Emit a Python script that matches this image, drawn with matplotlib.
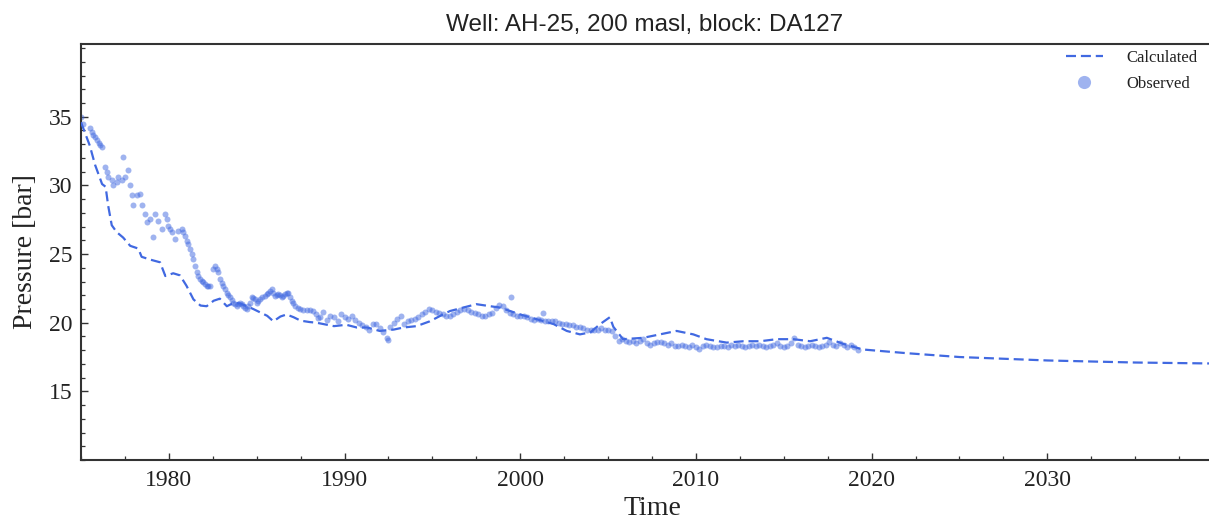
import matplotlib
matplotlib.use("Agg")
import matplotlib.pyplot as plt
from matplotlib.ticker import MultipleLocator

# ---------------- data ----------------
title = "Well: AH-25, 200 masl, block: DA127"

calc_years = [1975.0, 1975.5, 1975.8, 1976.2, 1976.4, 1976.55, 1976.75, 1977.03, 1977.4, 1977.8,
              1978.26, 1978.45, 1978.93, 1979.5, 1979.8, 1980.25, 1980.63, 1981.0, 1981.4, 1981.8,
              1982.15, 1982.55, 1982.9, 1983.3, 1983.7, 1984.05, 1984.45, 1984.8, 1985.2, 1985.6,
              1985.95, 1986.35, 1986.7, 1987.1, 1987.5, 1988.0, 1988.4, 1988.8, 1989.4, 1990.1,
              1990.7, 1991.3, 1992.0, 1992.8, 1993.35, 1994.1, 1994.85, 1995.45, 1996.0, 1996.75,
              1997.5, 1998.3, 1998.85, 2000.0, 2000.95, 2001.9, 2002.65, 2003.4, 2004.0, 2004.55,
              2005.1, 2005.3, 2005.85, 2007.0, 2007.95, 2008.9, 2009.85, 2010.6, 2011.75, 2012.7,
              2013.65, 2014.6, 2015.55, 2016.5, 2017.45, 2018.4, 2019.5, 2020.7, 2022.0, 2025.0,
              2030.0, 2035.0, 2040.0]
calc_bar = [34.6, 32.9, 31.5, 30.1, 29.9, 28.5, 27.1, 26.6, 26.2, 25.6,
            25.4, 24.8, 24.6, 24.4, 23.4, 23.6, 23.45, 22.7, 21.7, 21.25,
            21.2, 21.6, 21.75, 21.2, 21.45, 21.4, 21.2, 21.0, 20.75, 20.5,
            20.1, 20.45, 20.6, 20.4, 20.15, 20.05, 20.0, 19.9, 19.75, 19.85,
            19.65, 19.65, 19.4, 19.5, 19.65, 19.75, 20.1, 20.5, 20.85, 21.1,
            21.35, 21.2, 21.1, 20.6, 20.25, 19.9, 19.4, 19.15, 19.3, 19.9,
            20.4, 19.7, 18.8, 18.9, 19.15, 19.4, 19.15, 18.8, 18.55, 18.65,
            18.65, 18.8, 18.8, 18.65, 18.9, 18.45, 18.05, 17.92, 17.78, 17.5,
            17.25, 17.1, 17.02]

# observed (year, bar) pairs
observed_early = [
    (1975.0, 35.0), (1975.13, 34.5), (1975.51, 34.15), (1975.6, 33.9), (1975.7, 33.66),
    (1975.8, 33.5), (1975.89, 33.3), (1976.0, 33.1), (1976.08, 32.93), (1976.18, 32.81),
    (1976.37, 31.35), (1976.46, 30.98), (1976.56, 30.62), (1976.75, 30.37), (1976.84, 30.0),
    (1977.03, 30.25), (1977.13, 30.62), (1977.31, 30.37), (1977.41, 32.08), (1977.5, 30.62),
    (1977.69, 31.1), (1977.79, 30.0), (1977.88, 29.27), (1977.98, 28.54), (1978.17, 29.27),
    (1978.36, 29.4), (1978.45, 28.54), (1978.64, 27.93), (1978.74, 27.32), (1978.93, 27.57),
    (1979.12, 26.23), (1979.21, 27.93), (1979.4, 27.44), (1979.59, 26.84), (1979.78, 27.93),
    (1979.88, 27.57), (1979.97, 27.08), (1980.07, 26.8), (1980.16, 26.59), (1980.35, 26.1),
    (1980.54, 26.71), (1980.73, 26.84), (1980.82, 26.6), (1980.92, 26.35), (1981.02, 25.98),
    (1981.1, 25.7), (1981.2, 25.37), (1981.3, 25.0), (1981.39, 24.64), (1981.49, 24.15),
    (1981.58, 23.66), (1981.68, 23.4), (1981.77, 23.18), (1981.87, 23.05), (1981.96, 22.93),
    (1982.05, 22.8), (1982.15, 22.69), (1982.25, 22.65), (1982.34, 22.69), (1982.53, 23.91),
    (1982.63, 24.15), (1982.72, 23.9), (1982.82, 23.66), (1982.91, 23.18), (1983.0, 22.9),
    (1983.1, 22.69), (1983.2, 22.45), (1983.29, 22.2), (1983.38, 22.0), (1983.48, 21.84),
    (1983.58, 21.65), (1983.67, 21.47), (1983.76, 21.35), (1983.86, 21.23), (1983.95, 21.35),
    (1984.05, 21.47), (1984.15, 21.35), (1984.24, 21.23), (1984.33, 21.1), (1984.43, 20.98),
    (1984.52, 21.2), (1984.62, 21.47), (1984.72, 21.84), (1984.81, 21.8), (1984.9, 21.71),
    (1985.0, 21.47), (1985.1, 21.6), (1985.19, 21.71), (1985.33, 21.85), (1985.47, 21.96),
    (1985.56, 22.1), (1985.66, 22.2), (1985.75, 22.3), (1985.85, 22.45), (1985.94, 22.2),
    (1986.04, 21.96), (1986.13, 22.0), (1986.23, 22.08), (1986.32, 22.0), (1986.42, 21.84),
    (1986.51, 21.95), (1986.61, 22.08), (1986.7, 22.15), (1986.8, 22.2), (1986.9, 21.9),
    (1986.99, 21.59), (1987.09, 21.4), (1987.18, 21.23), (1987.33, 21.1), (1987.47, 20.98),
    (1987.66, 20.95), (1987.85, 20.93), (1988.04, 20.9), (1988.23, 20.86), (1988.37, 20.6),
    (1988.51, 20.37),
]

observed_mid = [
    (1988.6, 20.4), (1988.8, 20.8), (1989.0, 20.2), (1989.2, 20.5), (1989.4, 20.4),
    (1989.6, 20.1), (1989.8, 20.6), (1990.0, 20.4), (1990.2, 20.3), (1990.4, 20.5),
    (1990.6, 20.2), (1990.8, 20.0), (1991.0, 19.8), (1991.2, 19.7), (1991.4, 19.5),
    (1991.6, 19.9), (1991.8, 19.9), (1992.0, 19.6), (1992.2, 19.3), (1992.4, 18.9),
    (1992.5, 18.75), (1992.6, 19.7), (1992.8, 20.0), (1993.0, 20.3), (1993.2, 20.5),
    (1993.4, 19.9), (1993.6, 20.1), (1993.8, 20.2), (1994.0, 20.3), (1994.2, 20.4),
    (1994.4, 20.6), (1994.6, 20.8), (1994.8, 21.0), (1995.0, 20.9), (1995.2, 20.8),
    (1995.4, 20.7), (1995.6, 20.6), (1995.8, 20.5), (1996.0, 20.5), (1996.2, 20.6),
    (1996.4, 20.8), (1996.6, 20.9), (1996.8, 21.0), (1997.0, 20.9), (1997.2, 20.8),
    (1997.4, 20.7), (1997.6, 20.6), (1997.8, 20.5), (1998.0, 20.5), (1998.2, 20.6),
    (1998.4, 20.7), (1998.6, 21.1), (1998.8, 21.3), (1999.0, 21.2), (1999.2, 20.9),
    (1999.4, 20.7), (1999.5, 21.9), (1999.6, 20.6), (1999.8, 20.5), (2000.0, 20.5),
    (2000.2, 20.5), (2000.4, 20.4), (2000.6, 20.3), (2000.8, 20.2), (2001.0, 20.3),
    (2001.2, 20.2), (2001.3, 20.7), (2001.4, 20.1), (2001.6, 20.1), (2001.8, 20.1),
    (2002.0, 20.1), (2002.2, 20.0), (2002.4, 19.9), (2002.6, 19.9), (2002.8, 19.8),
    (2003.0, 19.8), (2003.2, 19.7), (2003.4, 19.7), (2003.6, 19.6), (2003.8, 19.5),
    (2004.0, 19.5), (2004.2, 19.5), (2004.4, 19.5), (2004.6, 19.6), (2004.8, 19.5),
    (2005.0, 19.5), (2005.2, 19.4), (2005.4, 19.0),
]

observed_late = [
    (2005.6, 18.7), (2005.8, 18.8), (2006.0, 18.7), (2006.2, 18.6), (2006.4, 18.7),
    (2006.6, 18.5), (2006.8, 18.7), (2007.0, 18.8), (2007.2, 18.5), (2007.4, 18.4),
    (2007.6, 18.5), (2007.8, 18.6), (2008.0, 18.6), (2008.2, 18.5), (2008.4, 18.4),
    (2008.6, 18.5), (2008.8, 18.3), (2009.0, 18.3), (2009.2, 18.4), (2009.4, 18.3),
    (2009.6, 18.2), (2009.8, 18.4), (2010.0, 18.2), (2010.2, 18.1), (2010.4, 18.3),
    (2010.6, 18.4), (2010.8, 18.3), (2011.0, 18.2), (2011.2, 18.2), (2011.4, 18.3),
    (2011.6, 18.3), (2011.8, 18.2), (2012.0, 18.4), (2012.2, 18.3), (2012.4, 18.4),
    (2012.6, 18.3), (2012.8, 18.2), (2013.0, 18.3), (2013.2, 18.4), (2013.4, 18.3),
    (2013.6, 18.4), (2013.8, 18.3), (2014.0, 18.2), (2014.2, 18.3), (2014.4, 18.4),
    (2014.6, 18.5), (2014.8, 18.3), (2015.0, 18.2), (2015.2, 18.3), (2015.4, 18.5),
    (2015.6, 18.9), (2015.8, 18.4), (2016.0, 18.3), (2016.2, 18.2), (2016.4, 18.3),
    (2016.6, 18.4), (2016.8, 18.3), (2017.0, 18.2), (2017.2, 18.3), (2017.4, 18.4),
    (2017.6, 18.6), (2017.8, 18.4), (2018.0, 18.3), (2018.2, 18.5), (2018.4, 18.4),
    (2018.6, 18.2), (2018.8, 18.4), (2019.0, 18.2), (2019.2, 18.0),
]

x_major_ticks = [1980, 1990, 2000, 2010, 2020, 2030]
y_major_ticks = [15, 20, 25, 30, 35]

# ---------------- plot ----------------
color = "#4169E1"
serif = ["Liberation Serif", "DejaVu Serif"]

fig = plt.figure(figsize=(12.09, 5.2), dpi=100)
ax = fig.add_axes([81 / 1209, 60 / 520, 1142 / 1209, 416 / 520])

obs = observed_early + observed_mid + observed_late
obs_years = [p[0] for p in obs]
obs_bar = [p[1] for p in obs]

ax.plot(calc_years, calc_bar, linestyle="--", color=color, lw=1.6,
        dashes=(4.5, 2.2), label="Calculated", zorder=3)
ax.plot(obs_years, obs_bar, linestyle="none", marker="o", ms=4.3,
        color=color, alpha=0.5, mec="none", label="Observed", zorder=2)

ax.set_xlim(1975, 2040)
ax.set_ylim(10, 40.3)
ax.set_xticks(x_major_ticks)
ax.set_yticks(y_major_ticks)
ax.xaxis.set_minor_locator(MultipleLocator(2.5))
ax.yaxis.set_minor_locator(MultipleLocator(1))

ax.tick_params(axis="both", which="major", direction="in", length=5, width=1,
               color="#333333", labelsize=17, top=False, right=False)
ax.tick_params(axis="x", which="major", pad=7)
ax.tick_params(axis="y", which="major", pad=6)
ax.tick_params(axis="both", which="minor", direction="in", length=3, width=0.9,
               color="#333333", top=False, right=False)
for lab in ax.get_xticklabels() + ax.get_yticklabels():
    lab.set_family(serif)
    lab.set_color("#222222")

for side in ["left", "bottom", "top", "right"]:
    ax.spines[side].set_linewidth(1.5)
    ax.spines[side].set_color("#333333")

ax.set_xlabel("Time", fontsize=20, family=serif, color="#222222", labelpad=4)
ax.set_ylabel("Pressure [bar]", fontsize=20, family=serif, color="#222222", labelpad=8)
ax.set_title(title, fontsize=17.5, family=["Liberation Sans", "DejaVu Sans"],
             color="#222222", pad=9, x=(645 - 81) / 1142)

leg = ax.legend(loc="upper right", bbox_to_anchor=((1212 - 81) / 1142, 1.022),
                frameon=False, prop={"family": serif, "size": 12}, markerscale=2.2,
                handlelength=2.2, handletextpad=1.4, labelspacing=0.6)
for t in leg.get_texts():
    t.set_color("#222222")

fig.savefig("out.png", dpi=100)
